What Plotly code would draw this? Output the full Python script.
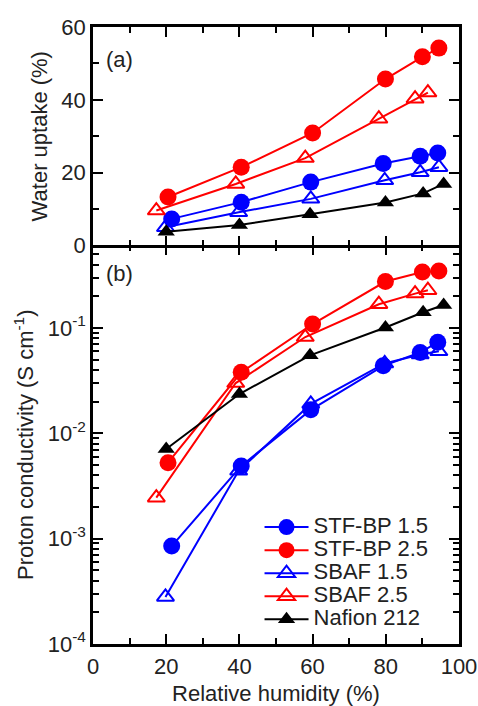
import plotly.graph_objects as go

# Series names and styling keys
series = ["STF-BP 1.5", "STF-BP 2.5", "SBAF 1.5", "SBAF 2.5", "Nafion 212"]

# Relative humidity (%) for each series
rh_stfbp15 = [21.5, 40.5, 59.5, 79.3, 89.4, 94.2]
rh_stfbp25 = [20.5, 40.5, 60.0, 79.9, 90.0, 94.5]
rh_sbaf15 = [19.8, 39.8, 59.5, 79.7, 89.4, 94.5]
rh_sbaf25 = [17.3, 39.0, 58.0, 78.1, 88.0, 91.5]
rh_nafion = [20.0, 40.0, 59.3, 79.9, 90.2, 95.8]

# (a) Water uptake (%)
wu_stfbp15 = [7.3, 11.9, 17.4, 22.5, 24.5, 25.4]
wu_stfbp25 = [13.3, 21.5, 30.9, 45.7, 51.8, 54.2]
wu_sbaf15 = [5.0, 9.1, 12.8, 17.9, 20.1, 21.5]
wu_sbaf25 = [9.6, 16.9, 24.0, 34.8, 40.3, 42.0]
wu_nafion = [3.8, 5.6, 8.6, 11.8, 14.3, 16.9]

# (b) Proton conductivity (S/cm)
pc_stfbp15 = [0.00085, 0.0049, 0.0167, 0.0437, 0.0586, 0.0731]
pc_stfbp25 = [0.00526, 0.0379, 0.109, 0.276, 0.339, 0.347]
pc_sbaf15 = [0.00028, 0.0044, 0.0190, 0.046, 0.056, 0.060]
pc_sbaf25 = [0.00245, 0.030, 0.082, 0.168, 0.212, 0.228]
pc_nafion = [0.0071, 0.0236, 0.055, 0.101, 0.141, 0.165]

# Axis ticks
x_ticks = [0, 20, 40, 60, 80, 100]
wu_ticks = [0, 20, 40, 60]
pc_ticks = [1e-4, 1e-3, 1e-2, 1e-1]
pc_ticktext = ["10<sup>-4</sup>", "10<sup>-3</sup>", "10<sup>-2</sup>", "10<sup>-1</sup>"]
pc_minor = [k * 10.0 ** e for e in range(-4, 0) for k in range(2, 10)] + [0.2, 0.3, 0.4, 0.5, 0.6]

rh = [rh_stfbp15, rh_stfbp25, rh_sbaf15, rh_sbaf25, rh_nafion]
wu = [wu_stfbp15, wu_stfbp25, wu_sbaf15, wu_sbaf25, wu_nafion]
pc = [pc_stfbp15, pc_stfbp25, pc_sbaf15, pc_sbaf25, pc_nafion]

BLUE, RED, BLACK = "#0000ff", "#ff0000", "#000000"
colors = [BLUE, RED, BLUE, RED, BLACK]
symbols = ["circle", "circle", "triangle-up-open", "triangle-up-open", "triangle-up"]
sizes = [17, 17, 15, 15, 15]

FONT = "Arial, 'Liberation Sans', sans-serif"
TXT = "#222"

fig = go.Figure()


def marker_for(i):
    return dict(symbol=symbols[i], size=sizes[i], color=colors[i],
                line=dict(color=colors[i], width=2 if "open" in symbols[i] else 0))


# Panel (a): water uptake
for i, name in enumerate(series):
    fig.add_trace(go.Scatter(
        x=rh[i], y=wu[i], mode="lines+markers", name=name, showlegend=False,
        line=dict(color=colors[i], width=2), marker=marker_for(i),
        xaxis="x", yaxis="y"))

# Panel (b): proton conductivity (carries the legend)
for i, name in enumerate(series):
    fig.add_trace(go.Scatter(
        x=rh[i], y=pc[i], mode="lines+markers",
        name='<span style="font-size:22px">' + name + "</span>",
        line=dict(color=colors[i], width=2), marker=marker_for(i),
        xaxis="x2", yaxis="y2"))

split = 0.6459

tick_style = dict(ticks="inside", ticklen=10, tickwidth=2, tickcolor="black")
minor_style = dict(ticks="inside", ticklen=6, tickwidth=2, tickcolor="black")
common_axis = dict(
    showline=True, linecolor="black", linewidth=2.5, mirror="ticks",
    showgrid=False, zeroline=False, automargin=False,
    tickfont=dict(family=FONT, size=22, color=TXT),
    **tick_style,
)

fig.update_layout(
    width=478, height=706,
    margin=dict(l=93, r=19, t=27, b=62),
    paper_bgcolor="white", plot_bgcolor="white",
    font=dict(family=FONT, size=22, color=TXT),
    xaxis=dict(common_axis, domain=[0, 1], anchor="y", range=[0, 100],
               tickvals=x_ticks, showticklabels=False,
               minor=dict(minor_style, dtick=10)),
    yaxis=dict(common_axis, domain=[split, 1], anchor="x", range=[0, 60],
               tickvals=wu_ticks,
               minor=dict(minor_style, dtick=10),
               title=dict(text="Water uptake (%)", standoff=8,
                          font=dict(family=FONT, size=22, color=TXT))),
    xaxis2=dict(common_axis, domain=[0, 1], anchor="y2", range=[0, 100],
                mirror=False, tickvals=x_ticks, ticklabelstandoff=1,
                minor=dict(minor_style, dtick=10),
                title=dict(text="Relative humidity (%)", standoff=14,
                           font=dict(family=FONT, size=22, color=TXT))),
    # top-edge ticks of panel (b), pointing down into the panel
    xaxis3=dict(overlaying="x2", anchor="y2", side="top", range=[0, 100],
                showline=False, showgrid=False, zeroline=False, automargin=False,
                showticklabels=False, tickvals=x_ticks,
                minor=dict(minor_style, dtick=10), **tick_style),
    yaxis2=dict(common_axis, domain=[0, split], anchor="x2", type="log",
                range=[-4, -0.217], tickvals=pc_ticks, ticktext=pc_ticktext,
                minor=dict(minor_style, tickmode="array", tickvals=pc_minor),
                title=dict(text="Proton conductivity (S cm<sup>-1</sup>)", standoff=8,
                           font=dict(family=FONT, size=22, color=TXT))),
    legend=dict(x=0.455, y=0.012, xanchor="left", yanchor="bottom",
                bgcolor="rgba(0,0,0,0)", borderwidth=0,
                font=dict(family=FONT, size=15.4, color=TXT),
                tracegroupgap=0, itemwidth=44),
    annotations=[
        dict(text="(a)", xref="x", yref="y", x=3, y=51, showarrow=False,
             xanchor="left", font=dict(family=FONT, size=22, color=TXT)),
        dict(text="(b)", xref="x2", yref="y2", x=3, y=-0.48, showarrow=False,
             xanchor="left", font=dict(family=FONT, size=22, color=TXT)),
    ],
)

# invisible trace so the top-edge tick axis of panel (b) is drawn
fig.add_trace(go.Scatter(x=[None], y=[None], xaxis="x3", yaxis="y2",
                         showlegend=False, hoverinfo="skip"))

fig.write_html("out.html")
